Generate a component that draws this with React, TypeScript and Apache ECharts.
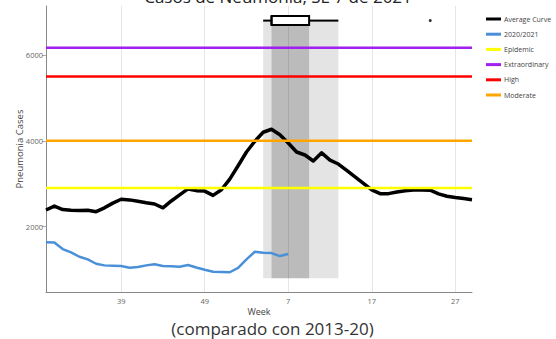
import React, { useEffect, useRef } from "react";
import * as echarts from "echarts";

// Epidemiological weeks on the x axis (season from week 30 to week 29)
const weekLabels = [
  "30", "31", "32", "33", "34", "35", "36", "37", "38", "39", "40", "41", "42", "43", "44", "45",
  "46", "47", "48", "49", "50", "51", "52", "1", "2", "3", "4", "5", "6", "7", "8", "9", "10",
  "11", "12", "13", "14", "15", "16", "17", "18", "19", "20", "21", "22", "23", "24", "25", "26",
  "27", "28", "29",
];

const xTickLabels = ["39", "49", "7", "17", "27"];
const yTickValues = [2000, 4000, 6000];

// Average curve 2013-20
const averageCurve = [
  2390, 2480, 2400, 2385, 2380, 2385, 2350, 2440, 2550, 2640, 2625, 2595, 2560, 2530, 2440, 2600,
  2740, 2880, 2840, 2830, 2730, 2860, 3110, 3420, 3740, 3990, 4200, 4270, 4140, 3950, 3740, 3670,
  3530, 3720, 3550, 3460, 3310, 3160, 3010, 2860, 2770, 2770, 2810, 2840, 2855, 2855, 2850, 2765,
  2710, 2680, 2655, 2630,
];

// Season 2020/2021 (up to week 7)
const season2021 = [
  1636, 1634, 1480, 1401, 1301, 1240, 1138, 1100, 1092, 1084, 1044, 1060, 1100, 1124, 1084, 1077,
  1069, 1107, 1052, 998, 951, 947, 940, 1044, 1240, 1417, 1394, 1386, 1317, 1364,
];

// Alert thresholds
const epidemicLevel = 2900;
const extraordinaryLevel = 6170;
const highLevel = 5500;
const moderateLevel = 4000;

// Peak-week box plot (week index): min, q1, median, q3, max
const peakBox = [26, 27, 27, 31.5, 35];
const peakOutliers = [46];
const boxLevel = 6800;
const bandBottom = 800;

const FONT = "Open Sans";

export default function App() {
  const ref = useRef<HTMLDivElement>(null);

  useEffect(() => {
    if (!ref.current) return;
    const chart = echarts.init(ref.current, null, { renderer: "svg" });
    const lastIdx = weekLabels.length - 1;
    const xTickIdx = xTickLabels.map((w) => weekLabels.indexOf(w));
    const flat = (v: number) => [
      [0, v],
      [lastIdx, v],
    ];

    const option: any = {
      animation: false,
      backgroundColor: "#ffffff",
      textStyle: { fontFamily: FONT },
      grid: { left: 46, right: 84, top: 6, bottom: 47, containLabel: false },
      legend: {
        orient: "vertical",
        left: 481,
        top: 9,
        icon: "rect",
        itemWidth: 15,
        itemHeight: 3,
        itemGap: 5.2,
        textStyle: { fontSize: 7, color: "#444", fontFamily: FONT, lineHeight: 10, padding: [0, 0, 0, -2] },
        data: ["Average Curve", "2020/2021", "Epidemic", "Extraordinary", "High", "Moderate"],
        selectedMode: false,
      },
      graphic: [
        {
          type: "text",
          x: 278,
          y: 5,
          style: {
            text: "Casos de Neumonía, SE 7 de 2021",
            font: `17px "${FONT}"`,
            fill: "#222",
            textAlign: "center",
            textVerticalAlign: "bottom",
          },
        },
        {
          type: "text",
          x: 272.5,
          y: 328.5,
          style: {
            text: "(comparado con 2013-20)",
            font: `17px "${FONT}"`,
            fill: "#333",
            textAlign: "center",
            textVerticalAlign: "middle",
          },
        },
      ],
      xAxis: {
        type: "value",
        min: 0,
        max: lastIdx,
        name: "Week",
        nameLocation: "middle",
        nameGap: 15,
        nameMoveOverlap: false,
        nameTextStyle: { fontSize: 9, color: "#444", fontFamily: FONT },
        axisLine: { show: true, lineStyle: { color: "#888", width: 1 } },
        axisTick: { show: false, customValues: xTickIdx },
        axisLabel: {
          customValues: xTickIdx,
          formatter: (v: number) => weekLabels[Math.round(v)],
          fontSize: 7.5,
          color: "#666",
          margin: 5,
          fontFamily: FONT,
        },
        splitLine: { show: true, lineStyle: { color: "#e6e6e6", width: 1 } },
      },
      yAxis: {
        type: "value",
        min: 480,
        max: 7140,
        name: "Pneumonia Cases",
        nameLocation: "middle",
        nameGap: 22,
        nameMoveOverlap: false,
        nameTextStyle: { fontSize: 9.5, color: "#444", fontFamily: FONT },
        axisLine: { show: true, lineStyle: { color: "#888", width: 1 } },
        axisTick: { show: true, customValues: yTickValues, length: 4, lineStyle: { color: "#aaa" } },
        axisLabel: {
          customValues: yTickValues,
          formatter: (v: number) => String(v),
          fontSize: 7.5,
          color: "#666",
          margin: 3,
          fontFamily: FONT,
        },
        splitLine: { show: false },
      },
      series: [
        {
          name: "Average Curve",
          type: "line",
          color: "#000000",
          symbol: "none",
          lineStyle: { width: 3.5, color: "#000000", join: "round" },
          data: averageCurve.map((v, i) => [i, v]),
          z: 3,
          markArea: {
            silent: true,
            data: [
              [
                { xAxis: peakBox[0], yAxis: bandBottom, itemStyle: { color: "rgba(0,0,0,0.105)" } },
                { xAxis: peakBox[4], yAxis: boxLevel },
              ],
              [
                { xAxis: peakBox[1], yAxis: bandBottom, itemStyle: { color: "rgba(0,0,0,0.175)" } },
                { xAxis: peakBox[3], yAxis: boxLevel },
              ],
            ],
          },
        },
        {
          name: "2020/2021",
          type: "line",
          color: "#4A90D9",
          symbol: "none",
          lineStyle: { width: 2.5, color: "#4A90D9" },
          data: season2021.map((v, i) => [i, v]),
          z: 4,
        },
        {
          name: "Epidemic",
          type: "line",
          color: "#FFFF00",
          symbol: "none",
          lineStyle: { width: 2.5, color: "#FFFF00" },
          data: flat(epidemicLevel),
          z: 5,
        },
        {
          name: "Extraordinary",
          type: "line",
          color: "#A020F0",
          symbol: "none",
          lineStyle: { width: 2.5, color: "#A020F0" },
          data: flat(extraordinaryLevel),
          z: 5,
        },
        {
          name: "High",
          type: "line",
          color: "#FF0000",
          symbol: "none",
          lineStyle: { width: 2.5, color: "#FF0000" },
          data: flat(highLevel),
          z: 5,
        },
        {
          name: "Moderate",
          type: "line",
          color: "#FFA500",
          symbol: "none",
          lineStyle: { width: 2.5, color: "#FFA500" },
          data: flat(moderateLevel),
          z: 5,
        },
        {
          name: "peakBox",
          type: "custom",
          z: 6,
          encode: { x: [0, 1, 2, 3, 4], y: 5 },
          data: [[...peakBox, boxLevel]],
          renderItem: (params: any, api: any) => {
            const y = api.value(5);
            const pMin = api.coord([api.value(0), y]);
            const pQ1 = api.coord([api.value(1), y]);
            const pMed = api.coord([api.value(2), y]);
            const pQ3 = api.coord([api.value(3), y]);
            const pMax = api.coord([api.value(4), y]);
            const h = 4.5;
            const stroke = { stroke: "#000", lineWidth: 2 };
            return {
              type: "group",
              children: [
                { type: "line", shape: { x1: pMin[0], y1: pMin[1], x2: pQ1[0], y2: pQ1[1] }, style: stroke },
                { type: "line", shape: { x1: pQ3[0], y1: pQ3[1], x2: pMax[0], y2: pMax[1] }, style: stroke },
                {
                  type: "rect",
                  shape: { x: pQ1[0], y: pQ1[1] - h, width: pQ3[0] - pQ1[0], height: 2 * h },
                  style: { fill: "#fff", stroke: "#000", lineWidth: 2 },
                },
                { type: "line", shape: { x1: pMed[0], y1: pMed[1] - h, x2: pMed[0], y2: pMed[1] + h }, style: stroke },
              ],
            };
          },
        },
        {
          name: "peakOutliers",
          type: "scatter",
          z: 6,
          symbol: "circle",
          symbolSize: 3,
          itemStyle: { color: "#000" },
          data: peakOutliers.map((w) => [w, boxLevel]),
        },
      ],
    };

    chart.setOption(option);
    return () => chart.dispose();
  }, []);

  return (
    <div
      ref={ref}
      style={{ position: "absolute", left: 0, top: 0, width: 556, height: 339 }}
    />
  );
}
